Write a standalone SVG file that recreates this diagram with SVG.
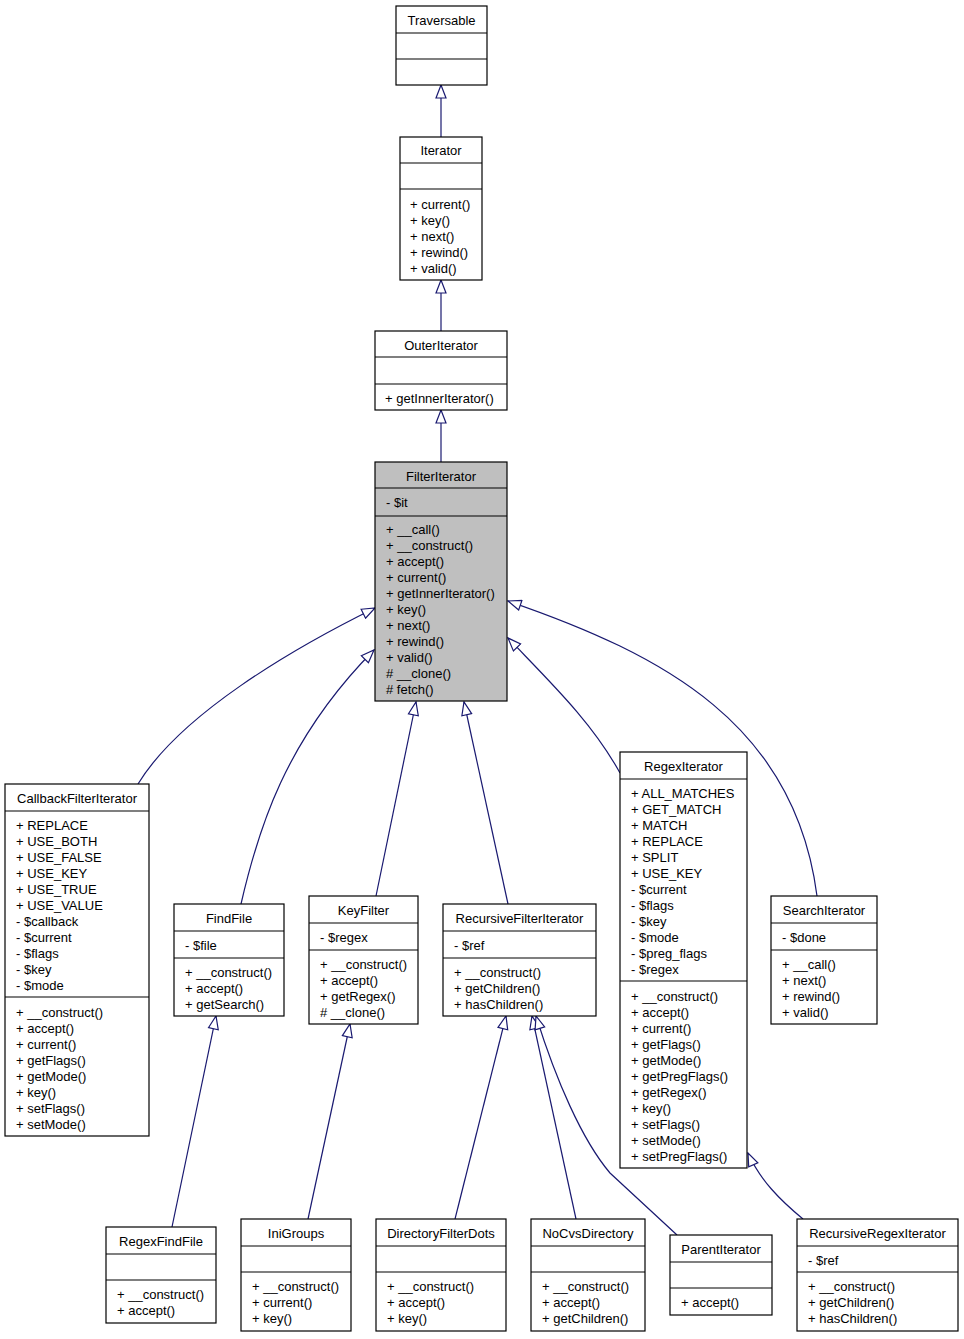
<svg xmlns="http://www.w3.org/2000/svg" width="964" height="1339" viewBox="0 0 964 1339">
<style>
text{font-family:"Liberation Sans",Arial,Helvetica,sans-serif;font-size:13px;fill:#000}
.t{text-anchor:middle}
.box{fill:#fff;stroke:#000;stroke-width:1.2}
.hl{fill:#bfbfbf}
.sep{stroke:#000;stroke-width:1.2}
.e{fill:none;stroke:#191970;stroke-width:1.2;marker-end:url(#tri)}
</style>
<defs>
<marker id="tri" markerUnits="userSpaceOnUse" viewBox="-1 -1 15 12" refX="13" refY="5" markerWidth="15" markerHeight="12" orient="auto">
<path d="M0,0 L13,5 L0,10 Z" fill="#fff" stroke="#191970" stroke-width="1.2"/>
</marker>
</defs>
<rect width="964" height="1339" fill="#fff"/>
<g id="edges">
<path class="e" d="M441,137 L441,85"/>
<path class="e" d="M441,331 L441,280"/>
<path class="e" d="M441,462 L441,410"/>
<path class="e" d="M138,784 C180,715 290,650 375,608"/>
<path class="e" d="M241,904 C258,830 285,740 374,650"/>
<path class="e" d="M376,896 L416,702"/>
<path class="e" d="M508,904 L464,702"/>
<path class="e" d="M620,773 C592,722 550,682 508,638"/>
<path class="e" d="M817,896 C795,725 665,655 508,601"/>
<path class="e" d="M172,1227 L216,1016"/>
<path class="e" d="M308,1219 L350,1024"/>
<path class="e" d="M455,1219 L506,1016"/>
<path class="e" d="M576,1219 L532,1016"/>
<path class="e" d="M677,1235 L610,1173 C582,1140 556,1080 536,1016"/>
<path class="e" d="M803,1219 C780,1200 760,1180 748,1153"/>
</g>
<g id="Traversable">
<rect class="box" x="396" y="6" width="91" height="79"/>
<line class="sep" x1="396" y1="33" x2="487" y2="33"/>
<line class="sep" x1="396" y1="59" x2="487" y2="59"/>
<text class="t" x="441.5" y="25">Traversable</text>
</g>
<g id="Iterator">
<rect class="box" x="400" y="137" width="82" height="143"/>
<line class="sep" x1="400" y1="163" x2="482" y2="163"/>
<line class="sep" x1="400" y1="189" x2="482" y2="189"/>
<text class="t" x="441" y="155">Iterator</text>
<text x="410" y="209">+ current()</text>
<text x="410" y="225">+ key()</text>
<text x="410" y="241">+ next()</text>
<text x="410" y="257">+ rewind()</text>
<text x="410" y="273">+ valid()</text>
</g>
<g id="OuterIterator">
<rect class="box" x="375" y="331" width="132" height="79"/>
<line class="sep" x1="375" y1="357" x2="507" y2="357"/>
<line class="sep" x1="375" y1="384" x2="507" y2="384"/>
<text class="t" x="441" y="350">OuterIterator</text>
<text x="385" y="403">+ getInnerIterator()</text>
</g>
<g id="FilterIterator">
<rect class="box hl" x="375" y="462" width="132" height="239"/>
<line class="sep" x1="375" y1="488" x2="507" y2="488"/>
<line class="sep" x1="375" y1="516" x2="507" y2="516"/>
<text class="t" x="441" y="481">FilterIterator</text>
<text x="386" y="507">- $it</text>
<text x="386" y="534">+ __call()</text>
<text x="386" y="550">+ __construct()</text>
<text x="386" y="566">+ accept()</text>
<text x="386" y="582">+ current()</text>
<text x="386" y="598">+ getInnerIterator()</text>
<text x="386" y="614">+ key()</text>
<text x="386" y="630">+ next()</text>
<text x="386" y="646">+ rewind()</text>
<text x="386" y="662">+ valid()</text>
<text x="386" y="678"># __clone()</text>
<text x="386" y="694"># fetch()</text>
</g>
<g id="CallbackFilterIterator">
<rect class="box" x="5" y="784" width="144" height="352"/>
<line class="sep" x1="5" y1="811" x2="149" y2="811"/>
<line class="sep" x1="5" y1="997" x2="149" y2="997"/>
<text class="t" x="77" y="803">CallbackFilterIterator</text>
<text x="16" y="830">+ REPLACE</text>
<text x="16" y="846">+ USE_BOTH</text>
<text x="16" y="862">+ USE_FALSE</text>
<text x="16" y="878">+ USE_KEY</text>
<text x="16" y="894">+ USE_TRUE</text>
<text x="16" y="910">+ USE_VALUE</text>
<text x="16" y="926">- $callback</text>
<text x="16" y="942">- $current</text>
<text x="16" y="958">- $flags</text>
<text x="16" y="974">- $key</text>
<text x="16" y="990">- $mode</text>
<text x="16" y="1017">+ __construct()</text>
<text x="16" y="1033">+ accept()</text>
<text x="16" y="1049">+ current()</text>
<text x="16" y="1065">+ getFlags()</text>
<text x="16" y="1081">+ getMode()</text>
<text x="16" y="1097">+ key()</text>
<text x="16" y="1113">+ setFlags()</text>
<text x="16" y="1129">+ setMode()</text>
</g>
<g id="FindFile">
<rect class="box" x="174" y="904" width="110" height="112"/>
<line class="sep" x1="174" y1="931" x2="284" y2="931"/>
<line class="sep" x1="174" y1="958" x2="284" y2="958"/>
<text class="t" x="229" y="923">FindFile</text>
<text x="185" y="950">- $file</text>
<text x="185" y="977">+ __construct()</text>
<text x="185" y="993">+ accept()</text>
<text x="185" y="1009">+ getSearch()</text>
</g>
<g id="KeyFilter">
<rect class="box" x="309" y="896" width="109" height="128"/>
<line class="sep" x1="309" y1="923" x2="418" y2="923"/>
<line class="sep" x1="309" y1="950" x2="418" y2="950"/>
<text class="t" x="363.5" y="915">KeyFilter</text>
<text x="320" y="942">- $regex</text>
<text x="320" y="969">+ __construct()</text>
<text x="320" y="985">+ accept()</text>
<text x="320" y="1001">+ getRegex()</text>
<text x="320" y="1017"># __clone()</text>
</g>
<g id="RecursiveFilterIterator">
<rect class="box" x="443" y="904" width="153" height="112"/>
<line class="sep" x1="443" y1="931" x2="596" y2="931"/>
<line class="sep" x1="443" y1="958" x2="596" y2="958"/>
<text class="t" x="519.5" y="923">RecursiveFilterIterator</text>
<text x="454" y="950">- $ref</text>
<text x="454" y="977">+ __construct()</text>
<text x="454" y="993">+ getChildren()</text>
<text x="454" y="1009">+ hasChildren()</text>
</g>
<g id="RegexIterator">
<rect class="box" x="620" y="752" width="127" height="416"/>
<line class="sep" x1="620" y1="779" x2="747" y2="779"/>
<line class="sep" x1="620" y1="981" x2="747" y2="981"/>
<text class="t" x="683.5" y="771">RegexIterator</text>
<text x="631" y="798">+ ALL_MATCHES</text>
<text x="631" y="814">+ GET_MATCH</text>
<text x="631" y="830">+ MATCH</text>
<text x="631" y="846">+ REPLACE</text>
<text x="631" y="862">+ SPLIT</text>
<text x="631" y="878">+ USE_KEY</text>
<text x="631" y="894">- $current</text>
<text x="631" y="910">- $flags</text>
<text x="631" y="926">- $key</text>
<text x="631" y="942">- $mode</text>
<text x="631" y="958">- $preg_flags</text>
<text x="631" y="974">- $regex</text>
<text x="631" y="1001">+ __construct()</text>
<text x="631" y="1017">+ accept()</text>
<text x="631" y="1033">+ current()</text>
<text x="631" y="1049">+ getFlags()</text>
<text x="631" y="1065">+ getMode()</text>
<text x="631" y="1081">+ getPregFlags()</text>
<text x="631" y="1097">+ getRegex()</text>
<text x="631" y="1113">+ key()</text>
<text x="631" y="1129">+ setFlags()</text>
<text x="631" y="1145">+ setMode()</text>
<text x="631" y="1161">+ setPregFlags()</text>
</g>
<g id="SearchIterator">
<rect class="box" x="771" y="896" width="106" height="128"/>
<line class="sep" x1="771" y1="923" x2="877" y2="923"/>
<line class="sep" x1="771" y1="950" x2="877" y2="950"/>
<text class="t" x="824" y="915">SearchIterator</text>
<text x="782" y="942">- $done</text>
<text x="782" y="969">+ __call()</text>
<text x="782" y="985">+ next()</text>
<text x="782" y="1001">+ rewind()</text>
<text x="782" y="1017">+ valid()</text>
</g>
<g id="RegexFindFile">
<rect class="box" x="106" y="1227" width="110" height="96"/>
<line class="sep" x1="106" y1="1254" x2="216" y2="1254"/>
<line class="sep" x1="106" y1="1280" x2="216" y2="1280"/>
<text class="t" x="161" y="1246">RegexFindFile</text>
<text x="117" y="1299">+ __construct()</text>
<text x="117" y="1315">+ accept()</text>
</g>
<g id="IniGroups">
<rect class="box" x="241" y="1219" width="110" height="112"/>
<line class="sep" x1="241" y1="1246" x2="351" y2="1246"/>
<line class="sep" x1="241" y1="1272" x2="351" y2="1272"/>
<text class="t" x="296" y="1238">IniGroups</text>
<text x="252" y="1291">+ __construct()</text>
<text x="252" y="1307">+ current()</text>
<text x="252" y="1323">+ key()</text>
</g>
<g id="DirectoryFilterDots">
<rect class="box" x="376" y="1219" width="130" height="112"/>
<line class="sep" x1="376" y1="1246" x2="506" y2="1246"/>
<line class="sep" x1="376" y1="1272" x2="506" y2="1272"/>
<text class="t" x="441" y="1238">DirectoryFilterDots</text>
<text x="387" y="1291">+ __construct()</text>
<text x="387" y="1307">+ accept()</text>
<text x="387" y="1323">+ key()</text>
</g>
<g id="NoCvsDirectory">
<rect class="box" x="531" y="1219" width="114" height="112"/>
<line class="sep" x1="531" y1="1246" x2="645" y2="1246"/>
<line class="sep" x1="531" y1="1272" x2="645" y2="1272"/>
<text class="t" x="588" y="1238">NoCvsDirectory</text>
<text x="542" y="1291">+ __construct()</text>
<text x="542" y="1307">+ accept()</text>
<text x="542" y="1323">+ getChildren()</text>
</g>
<g id="ParentIterator">
<rect class="box" x="670" y="1235" width="102" height="80"/>
<line class="sep" x1="670" y1="1262" x2="772" y2="1262"/>
<line class="sep" x1="670" y1="1288" x2="772" y2="1288"/>
<text class="t" x="721" y="1254">ParentIterator</text>
<text x="681" y="1307">+ accept()</text>
</g>
<g id="RecursiveRegexIterator">
<rect class="box" x="797" y="1219" width="161" height="112"/>
<line class="sep" x1="797" y1="1246" x2="958" y2="1246"/>
<line class="sep" x1="797" y1="1272" x2="958" y2="1272"/>
<text class="t" x="877.5" y="1238">RecursiveRegexIterator</text>
<text x="808" y="1265">- $ref</text>
<text x="808" y="1291">+ __construct()</text>
<text x="808" y="1307">+ getChildren()</text>
<text x="808" y="1323">+ hasChildren()</text>
</g>
</svg>
